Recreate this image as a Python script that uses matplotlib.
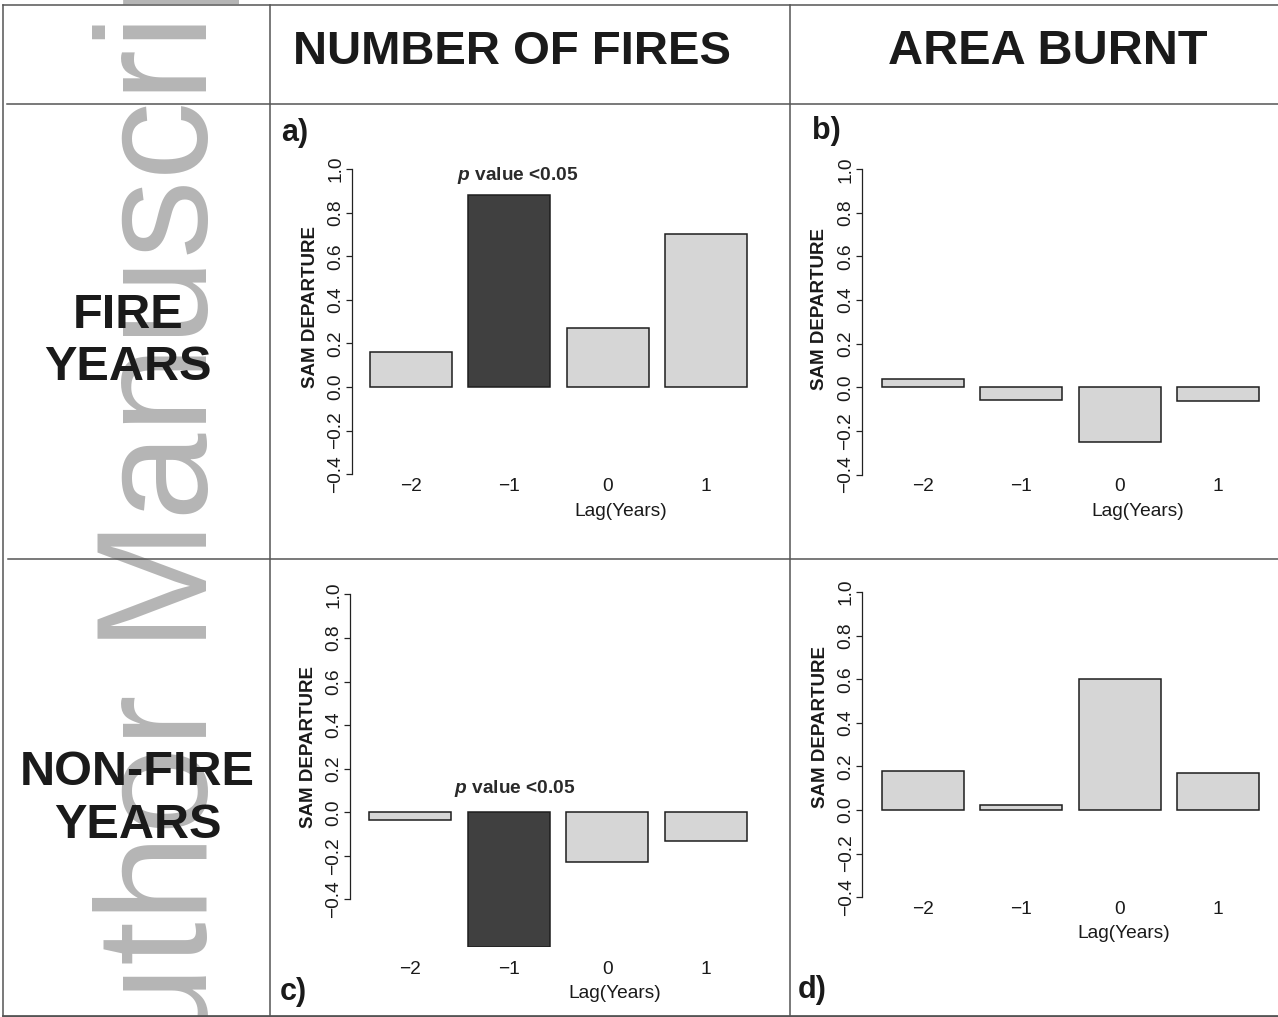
import numpy as np
import matplotlib
matplotlib.use("Agg")
import matplotlib.pyplot as plt
from matplotlib.lines import Line2D

plt.rcParams['font.family'] = 'Liberation Sans'
plt.rcParams['mathtext.fontset'] = 'custom'
plt.rcParams['mathtext.bfit'] = 'Liberation Sans:italic:bold'
plt.rcParams['mathtext.bf'] = 'Liberation Sans:bold'

# data
lags = ['\u22122', '\u22121', '0', '1']
fires_fire_years = [0.16, 0.88, 0.27, 0.70]
area_fire_years = [0.04, -0.06, -0.25, -0.065]
fires_nonfire_years = [-0.035, -0.62, -0.23, -0.13]
area_nonfire_years = [0.18, 0.025, 0.60, 0.17]
sig_fire_years = [False, True, False, False]
sig_nonfire_years = [False, True, False, False]
no_sig = [False, False, False, False]

col_titles = ['NUMBER OF FIRES', 'AREA BURNT']
row_titles = [['FIRE', 'YEARS'], ['NON-FIRE', 'YEARS']]
yticks = np.round(np.arange(-0.4, 1.01, 0.2), 1)

W, H = 1278, 1017
fig = plt.figure(figsize=(W / 100, H / 100), dpi=100)

def fx(x):
    return x / W

def fy(y):
    return 1 - y / H

UX, UY = 82.0, 218.0   # pixels per data unit (x, y)
txt = '#1a1a1a'
small = 13.8

# R barplot positions: width 1, space 0.2
pos = 0.7 + 1.2 * np.arange(len(lags))


def panel(vals, sig, yaxis_px, bar1_px, zero_px, ybot, lab_y, xlab, ylab, tag, pval=None):
    xlo = 0.2 - (bar1_px - yaxis_px) / UX
    xhi = 5.25
    ytop = 1.1
    left = yaxis_px
    width = (xhi - xlo) * UX
    top = zero_px - ytop * UY
    bottom = zero_px - ybot * UY
    ax = fig.add_axes([fx(left), fy(bottom), width / W, (bottom - top) / H])
    ax.set_xlim(xlo, xhi)
    ax.set_ylim(ybot, ytop)
    ax.patch.set_alpha(0)
    colors = ['#404040' if s else '#d6d6d6' for s in sig]
    ax.bar(pos, vals, width=1.0, color=colors, edgecolor='#1e1e1e', linewidth=1.1)
    for s in ['top', 'right', 'bottom']:
        ax.spines[s].set_visible(False)
    ax.spines['left'].set_bounds(-0.4, 1.0)
    ax.spines['left'].set_linewidth(0.9)
    ax.spines['left'].set_color('#222222')
    ax.set_yticks(yticks)
    ax.set_yticklabels([f'{v:.1f}'.replace('-', '\u2212') for v in yticks])
    ax.tick_params(axis='y', length=4.5, width=0.9, color='#222222', labelsize=small,
                   labelrotation=90, pad=1, labelcolor=txt)
    for t in ax.get_yticklabels():
        t.set_va('center')
    pad_px = lab_y - 7 - bottom
    ax.set_xticks(pos)
    ax.set_xticklabels(lags)
    ax.tick_params(axis='x', length=0, pad=pad_px * 0.72, labelsize=small, labelcolor=txt)
    fig.text(fx(xlab[0]), fy(xlab[1]), 'Lag(Years)', ha='center', va='center',
             fontsize=small, color=txt)
    fig.text(fx(ylab[0]), fy(ylab[1]), 'SAM DEPARTURE', ha='center', va='center',
             rotation=90, fontsize=small - 0.3, fontweight='bold', color=txt)
    fig.text(fx(tag[1]), fy(tag[2]), tag[0], ha='left', va='center',
             fontsize=22, fontweight='bold', color=txt)
    if pval is not None:
        fig.text(fx(pval[0]), fy(pval[1]), r'$\mathbfit{p}$ value <0.05', ha='center',
                 va='center', fontsize=small, fontweight='bold', color='#2a2a2a')
    return ax


panel(fires_fire_years, sig_fire_years, 352, 370, 387, -0.405, 485,
      (621, 511), (310.7, 306.5), ('a)', 281, 133), pval=(517.3, 175))
panel(area_fire_years, no_sig, 862, 881.7, 387.3, -0.405, 485,
      (1137.7, 511.7), (819.3, 309), ('b)', 811.7, 131))
panel(fires_nonfire_years, sig_nonfire_years, 350, 369.3, 812.3, -0.62, 968,
      (615, 993.3), (308.3, 747), ('c)', 280, 992), pval=(515, 788.3))
panel(area_nonfire_years, no_sig, 862.3, 882, 810, -0.405, 907.7,
      (1123.3, 933.3), (820, 726.7), ('d)', 798, 990))

# watermark
fig.text(fx(207), fy(1157), 'Author Manuscript', rotation=90, rotation_mode='anchor',
         ha='left', va='baseline', fontsize=113, color='#b5b5b5', zorder=0)

# table grid
lc = '#555555'
grid = [((3, 3), (5, 1016)), ((3, 1278), (5, 5)), ((3, 1278), (1016, 1016)),
        ((270, 270), (5, 1016)), ((790, 790), (5, 1016)),
        ((7, 1278), (104, 104)), ((8, 1278), (559, 559))]
for (xs, ys) in grid:
    lw = 2.0 if ys == (1016, 1016) else 1.1
    fig.add_artist(Line2D([fx(xs[0]), fx(xs[1])], [fy(ys[0]), fy(ys[1])],
                          transform=fig.transFigure, color=lc, linewidth=lw, zorder=5))

# headers
fig.text(fx(512), fy(52), col_titles[0], ha='center', va='center', fontsize=34,
         fontweight='bold', color=txt, zorder=6)
fig.text(fx(1047.5), fy(52), col_titles[1], ha='center', va='center', fontsize=35,
         fontweight='bold', color=txt, zorder=6)
row_pos = [[(128, 316), (128.3, 368)], [(137.5, 772.5), (138.3, 825)]]
for words, places in zip(row_titles, row_pos):
    for w, (x, y) in zip(words, places):
        fig.text(fx(x), fy(y), w, ha='center', va='center', fontsize=35,
                 fontweight='bold', color=txt, zorder=6)

fig.savefig('out.png', dpi=100)
